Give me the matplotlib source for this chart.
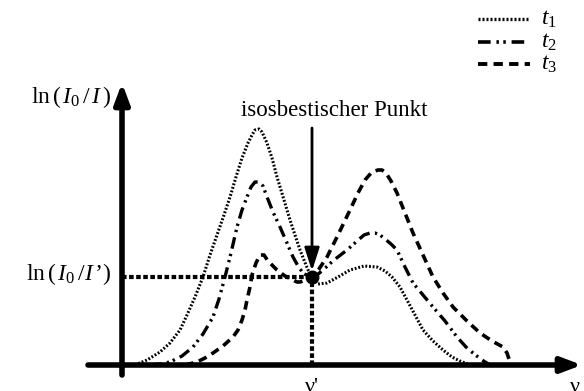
import matplotlib
matplotlib.use("Agg")
import matplotlib.pyplot as plt

plt.rcParams['mathtext.fontset'] = 'custom'
plt.rcParams['mathtext.rm'] = 'Liberation Serif'
plt.rcParams['mathtext.it'] = 'Liberation Serif:italic'
plt.rcParams['font.family'] = ['Liberation Serif', 'DejaVu Sans']

# curve data (x: wavenumber units, y: absorbance units; origin at axis crossing)
t1_x = [13, 25, 38, 48, 58, 65, 73, 81, 88, 95, 102, 108, 114, 120, 126, 130, 133, 137, 140, 145, 150, 155, 162, 168, 173, 178, 184, 189, 196, 205, 216, 228, 242, 255, 263, 270, 278, 285, 293, 301, 311, 321, 330, 338, 348]
t1_y = [0, 5, 13, 22, 35, 50, 68, 88, 110, 130, 150, 168, 188, 207, 222, 230, 235, 236, 233, 222, 207, 188, 165, 145, 130, 115, 100, 88, 81, 82, 88, 95, 99, 98, 94, 88, 78, 65, 50, 35, 24, 15, 8, 4, 0]

t2_x = [28, 38, 48, 60, 71, 81, 91, 97, 103, 109, 115, 120, 125, 129, 133, 137, 141, 145, 151, 158, 165, 171, 176, 181, 186, 190, 195, 201, 212, 225, 234, 242, 248, 253, 258, 263, 269, 275, 283, 291, 301, 311, 323, 335, 344, 351, 360, 368]
t2_y = [0, 1, 3, 9, 18, 31, 48, 66, 88, 112, 138, 155, 168, 178, 183, 183, 179, 168, 153, 138, 122, 108, 99, 92, 89, 88, 90, 95, 105, 115, 123, 130, 132, 132, 130, 126, 121, 115, 98, 82, 70, 58, 44, 28, 18, 12, 5, 0]

t3_x = [63, 75, 83, 91, 101, 111, 116, 120, 123, 125, 128, 130, 134, 138, 142, 146, 151, 155, 163, 171, 175, 178, 184, 190, 197, 205, 216, 228, 236, 243, 250, 256, 260, 264, 269, 275, 283, 291, 301, 311, 321, 331, 345, 358, 370, 381, 385, 388, 390]
t3_y = [0, 3, 7, 12, 19, 28, 35, 45, 55, 65, 78, 90, 102, 110, 110, 104, 99, 95, 89, 85, 83, 83, 85, 88, 96, 108, 130, 155, 172, 185, 193, 195, 195, 192, 184, 172, 152, 132, 110, 88, 72, 58, 44, 32, 24, 18, 12, 3, 0]

iso_x = 190
iso_y = 88

legend_labels = [r'$t_1$', r'$t_2$', r'$t_3$']

fig = plt.figure(figsize=(5.84, 3.91), dpi=100)
ax = fig.add_axes([0, 0, 1, 1])
ax.set_xlim(-122, 462)
ax.set_ylim(-26, 365)
ax.axis('off')

ls1 = (0, (0.6, 0.6))
ls2 = (0, (3.5, 1.6, 0.7, 1.2, 0.7, 1.6))
ls3 = (0, (2.4, 1.6))

ax.plot(t1_x, t1_y, color='black', lw=2.2, linestyle=ls1)
ax.plot(t2_x, t2_y, color='black', lw=2.4, linestyle=ls2)
ax.plot(t3_x, t3_y, color='black', lw=2.6, linestyle=ls3)

# reference lines to isosbestic point
ax.plot([0, iso_x], [iso_y, iso_y], color='black', lw=3, linestyle=(0, (1.1, 0.6)))
ax.plot([iso_x, iso_x], [0, iso_y], color='black', lw=3, linestyle=(0, (1.1, 0.6)))
ax.plot([iso_x], [iso_y], 'o', color='black', ms=9)

# axes with arrows
ax.annotate('', xy=(460, 0), xytext=(-34, 0),
            arrowprops=dict(arrowstyle='-|>,head_length=1.2,head_width=0.45', lw=4, color='black', shrinkA=0, shrinkB=0))
ax.annotate('', xy=(0, 282), xytext=(0, -10),
            arrowprops=dict(arrowstyle='-|>,head_length=1.2,head_width=0.45', lw=4, color='black', shrinkA=0, shrinkB=0))

# annotation arrow
ax.annotate('', xy=(iso_x, iso_y + 6), xytext=(iso_x, 237),
            arrowprops=dict(arrowstyle='-|>,head_length=1.4,head_width=0.45', lw=2, color='black', shrinkA=0, shrinkB=0))
ax.text(212, 255, 'isosbestischer Punkt', fontsize=16.5, ha='center', va='center')

# axis labels
ax.text(-11, 268, r'$\mathrm{ln}\,(\,I_0\,/\,I\,)$', fontsize=17, ha='right', va='center')
ax.text(-11, iso_y + 3, r'$\mathrm{ln}\,(\,I_0\,/I\,$’$)$', fontsize=17, ha='right', va='center')
ax.text(iso_x, -22, 'ν\'', fontsize=16, ha='center', va='center')
ax.text(453, -22, 'ν', fontsize=16, ha='center', va='center')

# legend
leg_y = [346, 323, 301]
styles = [ls1, ls2, ls3]
lws = [2.4, 2.6, 2.8]
for yy, st, lw, lab in zip(leg_y, styles, lws, legend_labels):
    ax.plot([356, 408], [yy, yy], color='black', lw=lw, linestyle=st)
    ax.text(419, yy, lab, fontsize=17, ha='left', va='center')

fig.savefig('out.png', dpi=100)
